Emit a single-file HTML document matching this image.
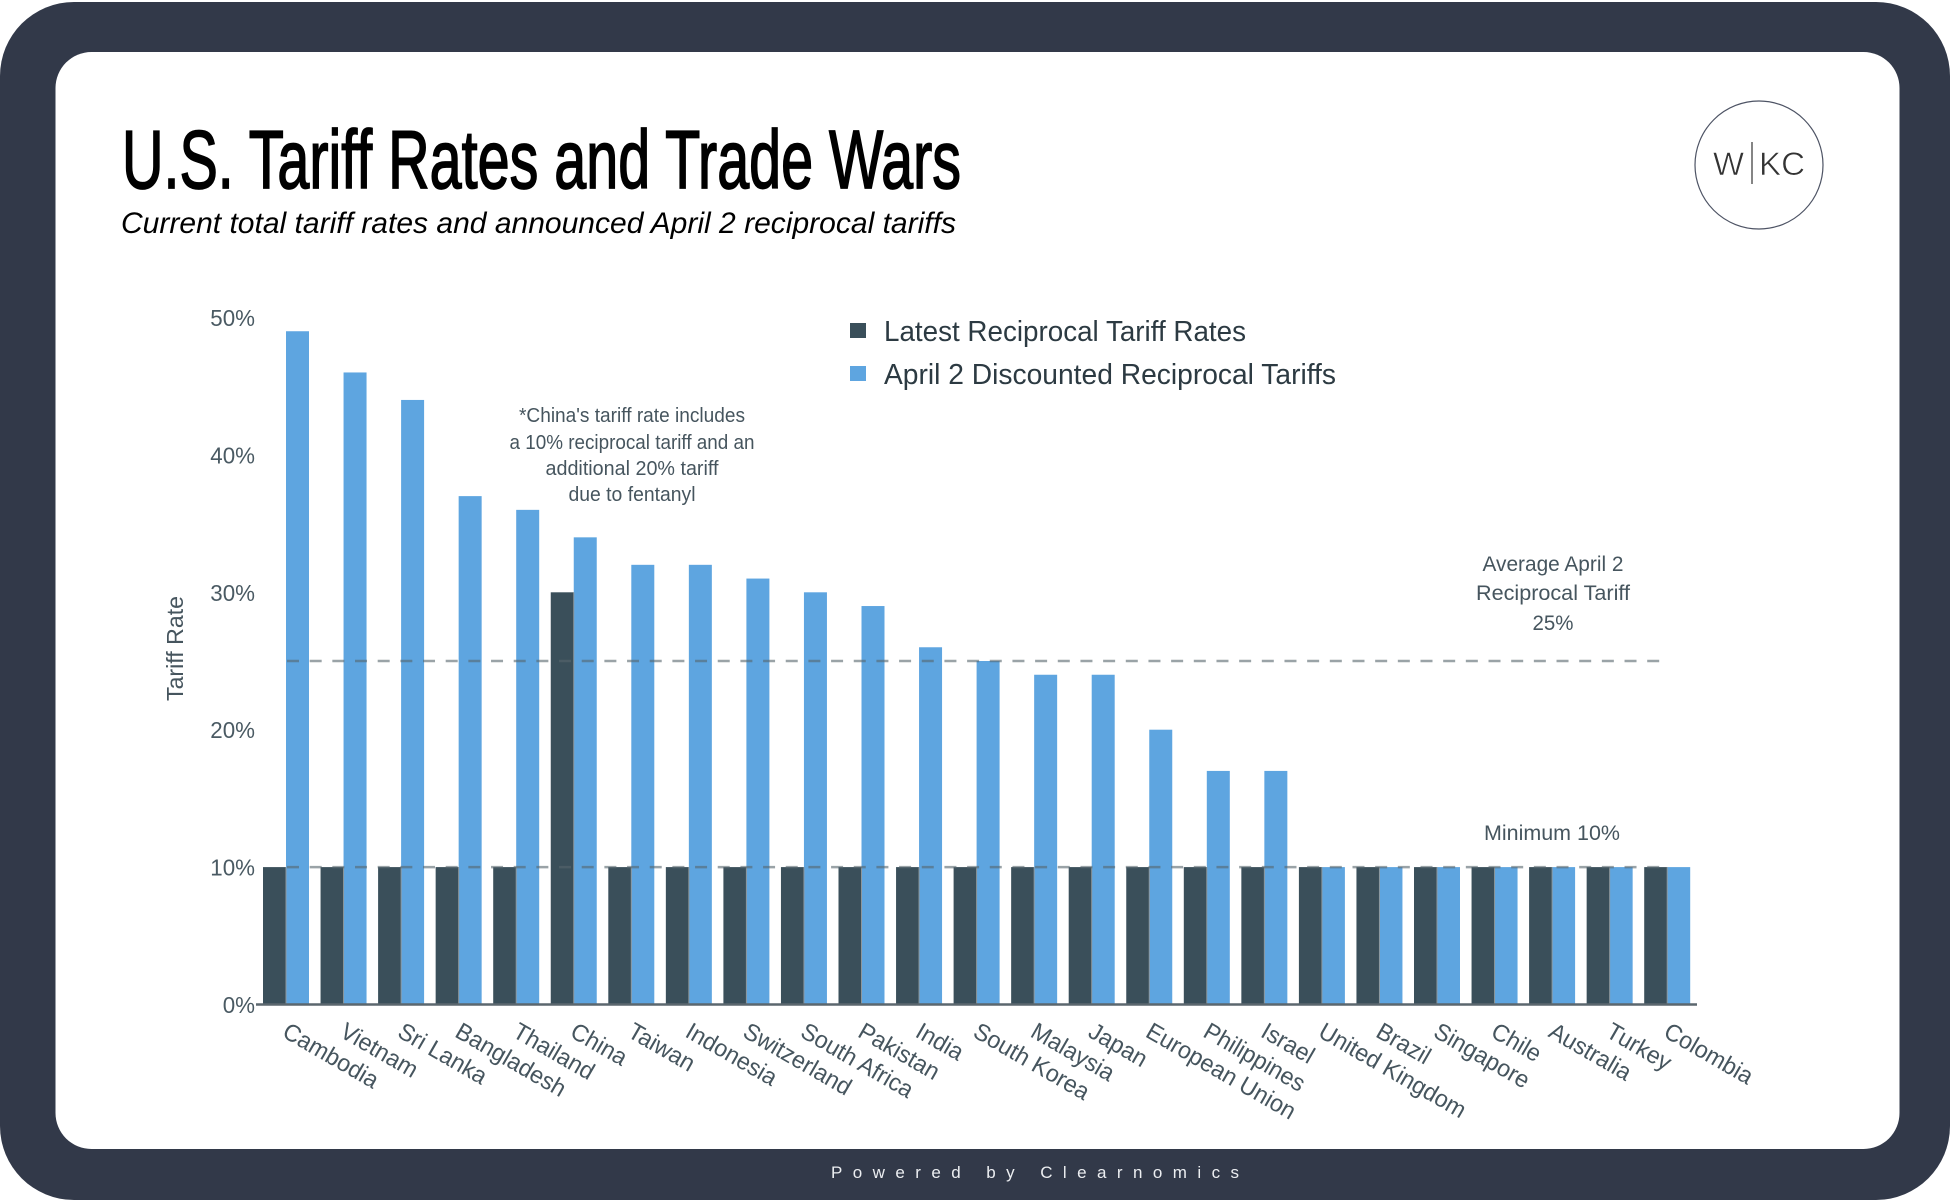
<!DOCTYPE html>
<html lang="en">
<head>
<meta charset="utf-8">
<title>U.S. Tariff Rates and Trade Wars</title>
<style>
html,body{margin:0;padding:0;background:#fff;width:1950px;height:1200px;overflow:hidden}
svg{display:block}
text{font-family:"Liberation Sans",sans-serif}
</style>
</head>
<body>
<svg id="chart" xmlns="http://www.w3.org/2000/svg" width="1950" height="1200" viewBox="0 0 1950 1200">
  <rect x="0" y="2" width="1950" height="1198" rx="74" ry="74" fill="#323949"/>
  <rect x="55.5" y="52" width="1844" height="1097" rx="36" ry="36" fill="#ffffff"/>

  <text x="122" y="188" font-size="83" font-weight="400" fill="#000" stroke="#000" stroke-width="1.7" textLength="839" lengthAdjust="spacingAndGlyphs">U.S. Tariff Rates and Trade Wars</text>
  <text x="121" y="233" font-size="30" font-style="italic" fill="#000" textLength="835" lengthAdjust="spacingAndGlyphs">Current total tariff rates and announced April 2 reciprocal tariffs</text>

  <g>
    <circle cx="1759" cy="165" r="64" fill="#fff" stroke="#4d5364" stroke-width="1.2"/>
    <text x="1713" y="175" font-size="32" fill="#333" stroke="#fff" stroke-width="0.6" textLength="31" lengthAdjust="spacingAndGlyphs">W</text>
    <line x1="1752" y1="142" x2="1752" y2="184" stroke="#333" stroke-width="1.2"/>
    <text x="1759" y="175" font-size="32" fill="#333" stroke="#fff" stroke-width="0.6" textLength="46" lengthAdjust="spacingAndGlyphs">KC</text>
  </g>

  <g id="bars"></g>
  <g id="refs"></g>
  <g id="axes"></g>

  <text transform="translate(183,701) rotate(-90)" font-size="23" fill="#46555e" textLength="105" lengthAdjust="spacingAndGlyphs">Tariff Rate</text>

  <g>
    <g>
      <rect x="850" y="323" width="16" height="15" fill="#3a4f5a"/>
      <text x="884" y="341" font-size="29" fill="#2c3a42" textLength="362" lengthAdjust="spacingAndGlyphs">Latest Reciprocal Tariff Rates</text>
    </g>
    <g>
      <rect x="850" y="366" width="16" height="15" fill="#5ea5e0"/>
      <text x="884" y="384" font-size="29" fill="#2c3a42" textLength="452" lengthAdjust="spacingAndGlyphs">April 2 Discounted Reciprocal Tariffs</text>
    </g>
  </g>

  <g font-size="20" fill="#46555e" text-anchor="middle">
    <text x="632" y="422" textLength="226" lengthAdjust="spacingAndGlyphs">*China's tariff rate includes</text>
    <text x="632" y="449" textLength="245" lengthAdjust="spacingAndGlyphs">a 10% reciprocal tariff and an</text>
    <text x="632" y="475" textLength="173" lengthAdjust="spacingAndGlyphs">additional 20% tariff</text>
    <text x="632" y="501" textLength="127" lengthAdjust="spacingAndGlyphs">due to fentanyl</text>
  </g>

  <g font-size="21" fill="#46555e" text-anchor="middle">
    <text x="1553" y="571" textLength="141" lengthAdjust="spacingAndGlyphs">Average April 2</text>
    <text x="1553" y="600" textLength="154" lengthAdjust="spacingAndGlyphs">Reciprocal Tariff</text>
    <text x="1553" y="630" textLength="41" lengthAdjust="spacingAndGlyphs">25%</text>
  </g>
  <text x="1552" y="840" font-size="21" fill="#46555e" text-anchor="middle" textLength="136" lengthAdjust="spacingAndGlyphs">Minimum 10%</text>

  <text x="831" y="1178" font-size="17" fill="#eceef1" textLength="408" lengthAdjust="spacing">Powered by Clearnomics</text>
</svg>
<script>
const categories = ["Cambodia","Vietnam","Sri Lanka","Bangladesh","Thailand","China","Taiwan","Indonesia","Switzerland","South Africa","Pakistan","India","South Korea","Malaysia","Japan","European Union","Philippines","Israel","United Kingdom","Brazil","Singapore","Chile","Australia","Turkey","Colombia"];
const latestRates = [10,10,10,10,10,30,10,10,10,10,10,10,10,10,10,10,10,10,10,10,10,10,10,10,10];
const aprilRates = [49,46,44,37,36,34,32,32,31,30,29,26,25,24,24,20,17,17,10,10,10,10,10,10,10];
const yTicks = [0,10,20,30,40,50];
const yTickLabels = ["0%","10%","20%","30%","40%","50%"];
const referenceValues = [25,10];

const SVGNS = "http://www.w3.org/2000/svg";
const plotLeft = 263, groupStep = 57.55, barW = 23;
const baseY = 1004.5, unitY = 13.74;
function xScale(i){ return plotLeft + i * groupStep; }
function yScale(v){ return baseY - v * unitY; }
function slug(s){ return s.toLowerCase().replace(/[^a-z0-9]+/g,"-"); }

const barsG = document.getElementById("bars");
const refsG = document.getElementById("refs");
const axesG = document.getElementById("axes");

categories.forEach(function(name, i){
  const d = document.createElementNS(SVGNS,"rect");
  d.setAttribute("x", xScale(i));
  d.setAttribute("y", yScale(latestRates[i]));
  d.setAttribute("width", barW);
  d.setAttribute("height", baseY - yScale(latestRates[i]));
  d.setAttribute("fill", "#3a4f5a");
  
  
  barsG.appendChild(d);

  const b = document.createElementNS(SVGNS,"rect");
  b.setAttribute("x", xScale(i) + barW);
  b.setAttribute("y", yScale(aprilRates[i]));
  b.setAttribute("width", barW);
  b.setAttribute("height", baseY - yScale(aprilRates[i]));
  b.setAttribute("fill", "#5ea5e0");
  
  
  barsG.appendChild(b);

  const sep = document.createElementNS(SVGNS,"line");
  sep.setAttribute("x1", xScale(i) + barW);
  sep.setAttribute("x2", xScale(i) + barW);
  sep.setAttribute("y1", yScale(Math.min(latestRates[i], aprilRates[i])));
  sep.setAttribute("y2", baseY);
  sep.setAttribute("stroke", "#8d979c");
  sep.setAttribute("stroke-width", "1");
  
  
  barsG.appendChild(sep);
});

referenceValues.forEach(function(v){
  const l = document.createElementNS(SVGNS,"line");
  l.setAttribute("x1", 287);
  l.setAttribute("x2", 1661);
  l.setAttribute("y1", yScale(v));
  l.setAttribute("y2", yScale(v));
  l.setAttribute("stroke", "#57656c");
  l.setAttribute("stroke-opacity", "0.6");
  l.setAttribute("stroke-width", "2.5");
  l.setAttribute("stroke-dasharray", "12 10.67");
  
  
  refsG.appendChild(l);
});

const axisLine = document.createElementNS(SVGNS,"line");
axisLine.setAttribute("x1", 256);
axisLine.setAttribute("x2", 1697);
axisLine.setAttribute("y1", baseY);
axisLine.setAttribute("y2", baseY);
axisLine.setAttribute("stroke", "#5b676e");
axisLine.setAttribute("stroke-width", "2.5");


axesG.appendChild(axisLine);

yTicks.forEach(function(v, i){
  const t = document.createElementNS(SVGNS,"text");
  t.textContent = yTickLabels[i];
  t.setAttribute("x", 255);
  t.setAttribute("y", yScale(v) + 8.5);
  t.setAttribute("text-anchor", "end");
  t.setAttribute("font-size", "23");
  t.setAttribute("fill", "#4a5a63");
  
  
  axesG.appendChild(t);
  t.setAttribute("textLength", (t.getComputedTextLength() * 0.97).toFixed(1));
  t.setAttribute("lengthAdjust", "spacingAndGlyphs");
});

categories.forEach(function(name, i){
  const t = document.createElementNS(SVGNS,"text");
  t.textContent = name;
  const cx = xScale(i) + barW - 5;
  t.setAttribute("transform", "translate(" + cx + ",1036) rotate(30)");
  t.setAttribute("font-size", "24");
  t.setAttribute("fill", "#46555e");
  
  
  axesG.appendChild(t);
  t.setAttribute("textLength", (t.getComputedTextLength() * 0.97).toFixed(1));
  t.setAttribute("lengthAdjust", "spacingAndGlyphs");
});
</script>
</body>
</html>
